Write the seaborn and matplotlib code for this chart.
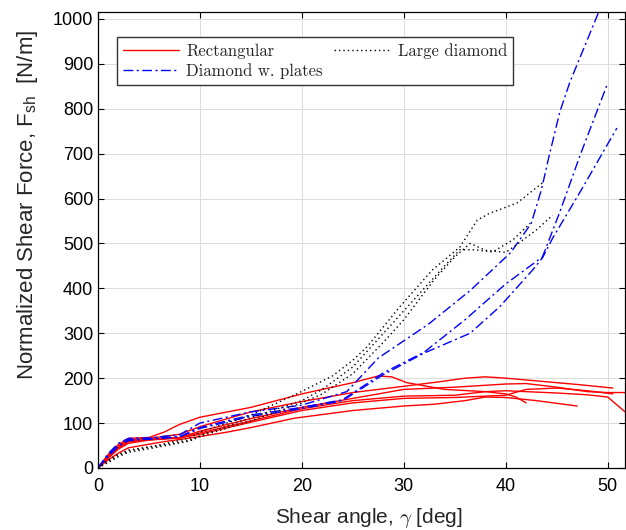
import numpy as np
import pandas as pd
import matplotlib.pyplot as plt
from matplotlib.lines import Line2D
import seaborn as sns

# ── data (shear angle [deg], normalized force [N/m]) ──
RECT1_X = [0, 1, 2, 3, 5, 6.5, 8, 10, 15, 20, 25, 27.5, 28.8, 30.3, 34, 38, 40, 41, 42]
RECT1_Y = [0, 30, 52, 66, 68, 80, 97, 113, 135, 165, 190, 205, 203, 190, 175, 170, 165, 158, 145]
RECT2_X = [0, 1, 2, 3, 5, 8, 10, 15, 20, 25, 30, 33.5, 36, 38, 40, 44, 47, 50.5]
RECT2_Y = [0, 28, 50, 63, 66, 75, 92, 125, 148, 168, 182, 192, 200, 203, 200, 192, 186, 178]
RECT3_X = [0, 1, 2, 3, 5, 8, 10, 15, 20, 25, 30, 35, 40, 42, 45, 48, 50, 51.7]
RECT3_Y = [0, 25, 46, 60, 64, 68, 82, 110, 135, 155, 175, 180, 187, 188, 180, 170, 168, 168]
RECT4_X = [0, 1, 2, 3, 6.3, 10, 12.7, 15, 19.3, 25, 30, 33, 36, 38, 40, 43, 47]
RECT4_Y = [0, 18, 33, 45, 58, 70, 80, 90, 111, 128, 138, 142, 150, 158, 157, 150, 138]
RECT5_X = [0, 1, 2, 3, 5, 8, 10, 15, 20, 25, 30, 35, 38, 40, 42, 45, 48, 50, 51.7]
RECT5_Y = [0, 24, 45, 58, 63, 67, 78, 105, 132, 150, 160, 162, 170, 172, 170, 167, 163, 158, 125]
RECT6_X = [0, 1, 2, 3, 5, 8, 10, 15, 20, 25, 30, 35, 38, 40, 42, 45, 48, 50.5]
RECT6_Y = [0, 22, 42, 55, 62, 67, 75, 102, 128, 145, 155, 157, 160, 162, 175, 178, 172, 165]

PLATE1_X = [0, 1, 2, 3, 5, 8, 10, 15, 20, 24.4, 27.5, 32.4, 36.5, 40.5, 42.5, 43.5, 44.2, 45.3, 46.3, 49.2]
PLATE1_Y = [0, 32, 55, 66, 67, 74, 100, 125, 140, 170, 245, 320, 395, 480, 545, 620, 690, 793, 860, 1020]
PLATE2_X = [0, 1, 2, 3, 5, 8, 10, 15, 20, 24, 28, 32, 36, 40, 43.6, 45.3, 47.3, 50]
PLATE2_Y = [0, 28, 50, 63, 65, 70, 90, 118, 135, 152, 212, 258, 330, 410, 470, 570, 697, 857]
PLATE3_X = [0, 1, 2, 3, 5, 8, 10, 15, 20, 24, 28, 32, 36.5, 39.4, 42.6, 43.6, 44.6, 47.3, 50.9]
PLATE3_Y = [0, 26, 48, 61, 64, 69, 88, 115, 132, 150, 208, 256, 300, 359, 440, 468, 512, 615, 757]

LARGE1_X = [0, 1, 2, 3, 6, 9, 10, 15, 19.5, 23, 25, 26.4, 29.6, 32.8, 35.5, 37.2, 38.4, 41.1, 43.6]
LARGE1_Y = [0, 18, 30, 40, 51, 67, 80, 118, 165, 205, 240, 270, 359, 441, 492, 552, 567, 590, 635]
LARGE2_X = [0, 1, 2, 3, 6, 9, 10, 15, 20, 22, 25, 28, 30, 32, 34, 35.5, 37, 38.7, 40.7, 42.4]
LARGE2_Y = [0, 15, 28, 38, 50, 62, 72, 112, 150, 175, 225, 300, 350, 400, 450, 486, 486, 481, 508, 545]
LARGE3_X = [0, 1, 2, 3, 6, 9, 10, 15, 20, 22, 25, 28, 30, 33, 35, 36.5, 38, 40, 41.4, 43, 44.6]
LARGE3_Y = [0, 12, 25, 35, 47, 60, 70, 105, 145, 165, 210, 280, 330, 420, 470, 500, 485, 480, 503, 530, 563]

GROUPS = ["Rectangular", "Diamond w. plates", "Large diamond"]
CURVES = {
    "Rectangular": [(RECT1_X, RECT1_Y), (RECT2_X, RECT2_Y), (RECT3_X, RECT3_Y),
                    (RECT4_X, RECT4_Y), (RECT5_X, RECT5_Y), (RECT6_X, RECT6_Y)],
    "Diamond w. plates": [(PLATE1_X, PLATE1_Y), (PLATE2_X, PLATE2_Y), (PLATE3_X, PLATE3_Y)],
    "Large diamond": [(LARGE1_X, LARGE1_Y), (LARGE2_X, LARGE2_Y), (LARGE3_X, LARGE3_Y)],
}

PALETTE = {"Rectangular": "#ff0000", "Diamond w. plates": "#0000ff", "Large diamond": "#000000"}
DASHES = {"Rectangular": "", "Diamond w. plates": (7, 2.5, 1.5, 2.5), "Large diamond": (1, 2.2)}

rows = []
for g in GROUPS:
    for i, (xs, ys) in enumerate(CURVES[g]):
        for x, y in zip(xs, ys):
            rows.append({"group": g, "specimen": f"{g}-{i}", "angle": x, "force": y})
df = pd.DataFrame(rows)

# ─────────────────────────────────────────────────────────────────────────────
sns.set_theme(style="ticks")
plt.rcParams["font.family"] = ["Liberation Sans", "DejaVu Sans"]
plt.rcParams["mathtext.fontset"] = "custom"
plt.rcParams["mathtext.rm"] = "Liberation Sans"
plt.rcParams["mathtext.it"] = "Liberation Sans:italic"

fig = plt.figure(figsize=(6.26, 5.30), dpi=100)
ax = fig.add_axes([0.1565, 0.117, 0.842, 0.860])

sns.lineplot(data=df, x="angle", y="force", hue="group", style="group",
             units="specimen", estimator=None, sort=False,
             palette=PALETTE, dashes=DASHES, lw=1.0, legend=False, ax=ax)

ax.set_xlim(0, 51.7)
ax.set_ylim(0, 1015)
ax.set_xticks(np.arange(0, 51, 10))
ax.set_yticks(np.arange(0, 1001, 100))
ax.grid(True, color="#dcdcdc", lw=0.7)
ax.set_axisbelow(True)
for s in ax.spines.values():
    s.set_visible(True)
    s.set_color("black")
    s.set_linewidth(0.9)
ax.tick_params(direction="in", length=4, width=0.8, top=True, right=True,
               labelsize=13, colors="black")
ax.tick_params(axis="x", pad=7)

ax.set_xlabel(r"Shear angle, $\gamma$ [deg]", fontsize=15, math_fontfamily="cm")
ax.set_ylabel(r"Normalized Shear Force, F$_{\mathrm{sh}}$  [N/m]", fontsize=16)
ax.xaxis.set_label_coords(0.513, -0.083)
ax.yaxis.set_label_coords(-0.133, 0.577)
ax.yaxis.label.set_va("center")

handles = [Line2D([], [], color=PALETTE[g], lw=1.0,
                  dashes=DASHES[g] if DASHES[g] else (None, None),
                  linestyle="-") for g in GROUPS]
leg = ax.legend(handles, GROUPS, ncol=2, loc="upper left",
                bbox_to_anchor=(0.036, 0.945), borderaxespad=0,
                prop={"family": "cmr10", "size": 12},
                handlelength=3.4, columnspacing=0.7, handletextpad=0.4,
                labelspacing=0.25, borderpad=0.35, fancybox=False, framealpha=1)
leg.get_frame().set_edgecolor("#333333")
leg.get_frame().set_linewidth(1.0)

fig.savefig("out.png", dpi=100)
